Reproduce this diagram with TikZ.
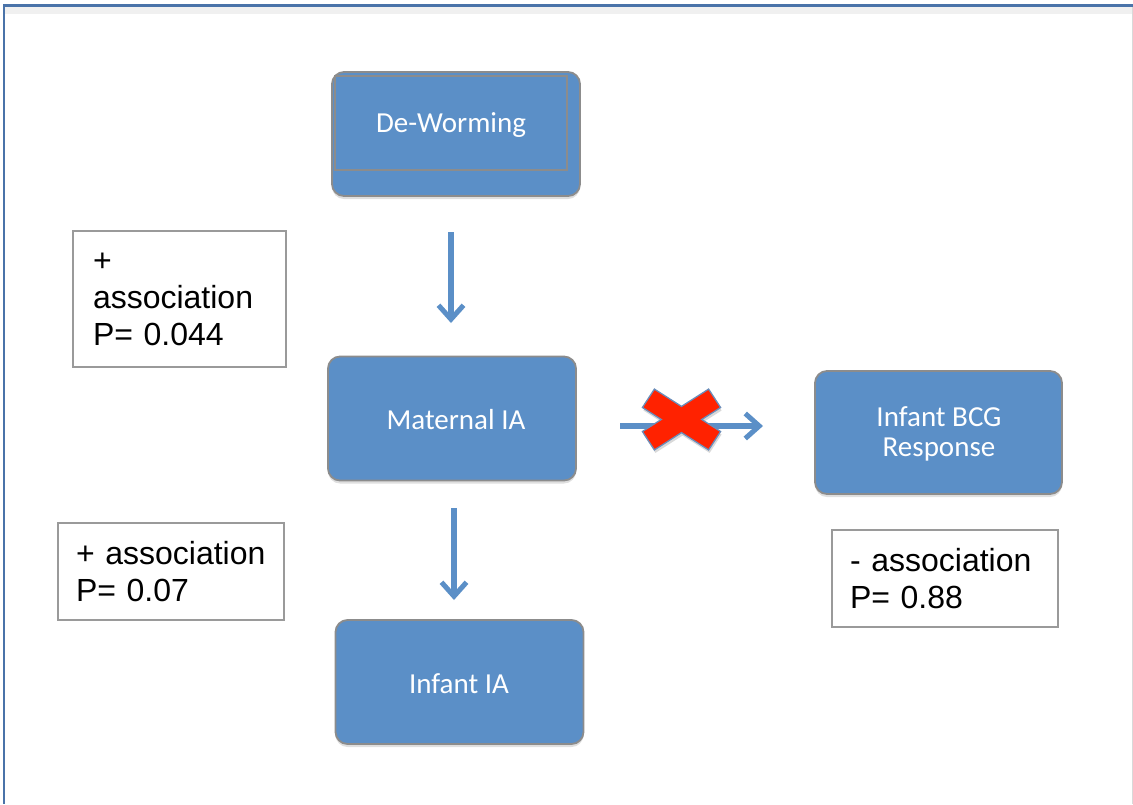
\documentclass[tikz,border=0pt]{standalone}
\usepackage{fontspec}
\setmainfont{Liberation Sans}
\newfontfamily\calib{Carlito}
\usetikzlibrary{arrows.meta,shadows}
\hyphenpenalty=10000
\definecolor{boxblue}{HTML}{5B8FC7}
\definecolor{boxedge}{HTML}{8C8C8C}
\definecolor{notegray}{HTML}{9A9A9A}
\definecolor{framebl}{HTML}{4A73A9}
\definecolor{xred}{HTML}{FF2200}
\definecolor{xedge}{HTML}{6A8DBA}
\tikzset{
  bluebox/.style={draw=boxedge, line width=1.8pt, fill=boxblue, rounded corners=12pt,
    minimum width=248pt, minimum height=124pt, inner sep=0pt,
    drop shadow={opacity=0.25, shadow xshift=0pt, shadow yshift=-3pt}},
  boxtext/.style={text=white, font=\calib\fontsize{29}{30.5}\selectfont, align=center, inner sep=0pt},
  notebox/.style={draw=notegray, line width=1.5pt, fill=white, align=left,
    font=\fontsize{32}{37}\selectfont, inner xsep=20pt, inner ysep=0pt},
  arr/.style={draw=boxblue, line width=5.5pt,
    -{Straight Barb[length=14pt,width=25pt,line width=5pt]}}
}
\begin{document}
\hyphenpenalty=10000
\begin{tikzpicture}[x=1pt,y=-1pt]
\useasboundingbox (0,0) rectangle (1133,804);
% frame
\fill[black!6] (5,7) rectangle (1133,14);
\draw[black!15, line width=1pt] (1132,7) -- (1132,804);
\draw[framebl, line width=2.5pt] (3,5.5) -- (1133,5.5);
\draw[framebl, line width=2.5pt] (4,5.5) -- (4,804);

% blue boxes
\node[bluebox] (dw) at (456,134) {};
\draw[boxedge, line width=1.2pt] (335,76) rectangle (567,170);
\node[boxtext] (dwt) at (451,125) {De-Worming};
\node[bluebox] (mat) at (452,418.5) {};
\node[boxtext] (matt) at (456,420) {Maternal IA};
\node[bluebox] (inf) at (459.5,682) {};
\node[boxtext] (inft) at (459,684) {Infant IA};
\node[bluebox, minimum width=247pt, minimum height=123pt] (bcg) at (938.5,432.5) {};
\node[boxtext] (bcgt) at (939,434) {Infant BCG\\Response};

% note boxes
\node[notebox, text width=173pt, minimum height=136pt] (n1) at (179.5,299) {+\\association\\P= 0.044};
\node[notebox, inner xsep=18pt, text width=190pt, minimum height=97pt] (n2) at (171,571.5) {+ association\\P= 0.07};
\node[notebox, inner xsep=18pt, text width=190pt, minimum height=97pt] (n3) at (945,578.5) {- association\\P= 0.88};

% arrows
\coordinate (a1s) at (451,232); \coordinate (a1e) at (451,323);
\coordinate (a2s) at (454,508); \coordinate (a2e) at (454,600);
\coordinate (a3s) at (620,426); \coordinate (a3e) at (763,426);
\draw[arr] (a1s) -- (a1e);
\draw[arr] (a2s) -- (a2e);
\draw[arr] (a3s) -- (a3e);

% red cross
\begin{scope}[shift={(681.5,419.5)}]
\fill[black, opacity=0.15] ([shift={(1,3)}]0,13.1) -- ([shift={(1,3)}]27.1,30.4) -- ([shift={(1,3)}]39.1,12.0) -- ([shift={(1,3)}]20.2,0)
  -- ([shift={(1,3)}]39.1,-12.0) -- ([shift={(1,3)}]27.1,-30.4) -- ([shift={(1,3)}]0,-13.1)
  -- ([shift={(1,3)}]-27.1,-30.4) -- ([shift={(1,3)}]-39.1,-12.0) -- ([shift={(1,3)}]-20.2,0)
  -- ([shift={(1,3)}]-39.1,12.0) -- ([shift={(1,3)}]-27.1,30.4) -- cycle;
\filldraw[fill=xred, draw=xedge, line width=1.3pt, line join=miter]
  (0,13.1) -- (27.1,30.4) -- (39.1,12.0) -- (20.2,0)
  -- (39.1,-12.0) -- (27.1,-30.4) -- (0,-13.1)
  -- (-27.1,-30.4) -- (-39.1,-12.0) -- (-20.2,0)
  -- (-39.1,12.0) -- (-27.1,30.4) -- cycle;
\end{scope}
\end{tikzpicture}
\end{document}
